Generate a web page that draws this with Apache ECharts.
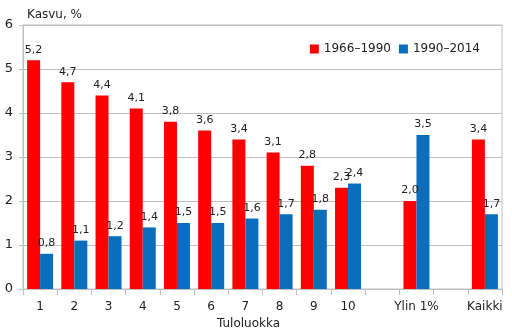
<!DOCTYPE html>
<html>
<head>
<meta charset="utf-8">
<script src="https://cdn.jsdelivr.net/npm/echarts@6/dist/echarts.min.js"></script>
<style>
  html, body { margin: 0; padding: 0; background: #fff; }
  #chart { width: 512px; height: 336px; }
</style>
</head>
<body>
<div id="chart"></div>
<script>
// Income classes 1–10, then the top 1 % and all households; blanks are spacer slots
const categories = ['1', '2', '3', '4', '5', '6', '7', '8', '9', '10', '', 'Ylin 1%', '', 'Kaikki'];
const growth1966_1990 = [5.2, 4.7, 4.4, 4.1, 3.8, 3.6, 3.4, 3.1, 2.8, 2.3, '-', 2.0, '-', 3.4];
const growth1990_2014 = [0.8, 1.1, 1.2, 1.4, 1.5, 1.5, 1.6, 1.7, 1.8, 2.4, '-', 3.5, '-', 1.7];
const yTicks = [0, 1, 2, 3, 4, 5, 6];

const FONT = 'DejaVu Sans';
const TEXT = '#222';
const GRID = '#bfbfbf';

const fmt = p => Number(p.value).toFixed(1).replace('.', ',');

const chart = echarts.init(document.getElementById('chart'), null, { renderer: 'canvas' });
chart.setOption({
  animation: false,
  textStyle: { fontFamily: FONT },
  title: {
    text: 'Kasvu, %',
    left: 22, top: 4,
    textStyle: { fontFamily: FONT, fontSize: 12, fontWeight: 'normal', color: TEXT }
  },
  legend: {
    right: 27, top: 38,
    itemWidth: 9, itemHeight: 9, itemGap: 8,
    icon: 'rect',
    textStyle: { fontFamily: FONT, fontSize: 12, color: TEXT },
    data: ['1966–1990', '1990–2014']
  },
  grid: { left: 23, right: 10, top: 25, bottom: 47, show: true, borderColor: GRID, borderWidth: 1 },
  xAxis: {
    type: 'category',
    data: categories,
    boundaryGap: true,
    name: 'Tuloluokka',
    nameLocation: 'middle',
    nameGap: 27,
    nameTextStyle: { fontFamily: FONT, fontSize: 12, color: TEXT, padding: [0, 28, 0, 0] },
    axisLine: { lineStyle: { color: GRID } },
    axisTick: { show: true, interval: 0, length: 6, lineStyle: { color: GRID } },
    axisLabel: { interval: 0, fontFamily: FONT, fontSize: 12, color: TEXT, margin: 12 }
  },
  yAxis: {
    type: 'value',
    min: yTicks[0], max: yTicks[yTicks.length - 1], interval: 1,
    axisLine: { show: true, lineStyle: { color: GRID } },
    axisTick: { show: true, length: 4, lineStyle: { color: GRID } },
    axisLabel: { fontFamily: FONT, fontSize: 13, color: TEXT, margin: 10 },
    splitLine: { lineStyle: { color: GRID } }
  },
  series: [
    {
      name: '1966–1990', type: 'bar', data: growth1966_1990,
      barWidth: 13, barGap: '0%',
      itemStyle: { color: '#ff0000' },
      label: { show: true, position: 'top', distance: 5, formatter: fmt, fontFamily: FONT, fontSize: 11, color: TEXT }
    },
    {
      name: '1990–2014', type: 'bar', data: growth1990_2014,
      barWidth: 13, barGap: '0%',
      itemStyle: { color: '#0a6ebd' },
      label: { show: true, position: 'top', distance: 5, formatter: fmt, fontFamily: FONT, fontSize: 11, color: TEXT }
    }
  ]
});
</script>
</body>
</html>
